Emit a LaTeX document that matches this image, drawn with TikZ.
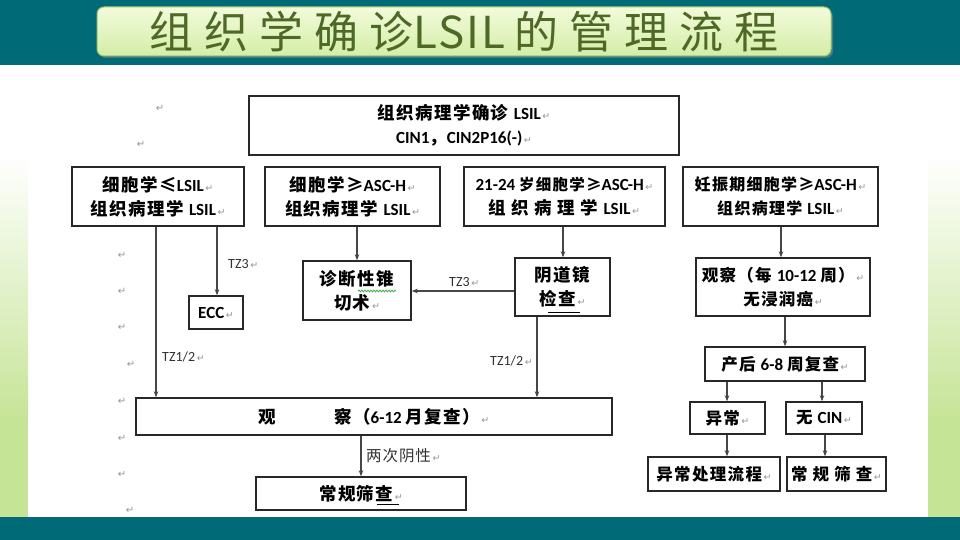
\documentclass[tikz,border=0pt]{standalone}
\usepackage{fontspec}
\usetikzlibrary{arrows.meta,decorations.pathmorphing}
\newfontfamily\cjk{Noto Sans CJK SC}
\newfontfamily\lat{Carlito}
\newfontfamily\symf{DejaVu Sans}
\definecolor{tealbg}{RGB}{0,107,118}
\definecolor{stripgreen}{RGB}{198,228,150}
\definecolor{titletext}{RGB}{78,104,38}
\definecolor{titletop}{RGB}{242,251,218}
\definecolor{titlebot}{RGB}{212,237,168}
\definecolor{titleedge}{RGB}{160,198,110}
\definecolor{boxc}{RGB}{40,40,40}
\definecolor{arrc}{RGB}{70,70,70}
\definecolor{retgray}{RGB}{150,150,150}
\definecolor{labc}{RGB}{50,50,50}
\definecolor{squig}{RGB}{70,170,70}
\newcommand\ret{{\symf\fontsize{9.5}{9.5}\selectfont\color{retgray}\,↵}}
\newcommand\zh[1]{{\cjk\bfseries\addfontfeature{LetterSpace=8}#1}}
\newcommand\la[1]{{\lat\bfseries\fontsize{17}{24}\selectfont #1}}
\tikzset{
  box/.style={draw=boxc, line width=1.4pt, fill=white, align=center, inner sep=0pt,
    text=black, font=\fontsize{17.5}{24}\selectfont},
  smallbox/.style={box, font=\fontsize{16.5}{24}\selectfont},
  arr/.style={draw=arrc, line width=1.2pt, -{Stealth[length=6pt,width=4.5pt]}},
  lbl/.style={font=\lat\fontsize{14}{14}\selectfont, text=labc, inner sep=0pt, anchor=west},
  retn/.style={font=\symf\fontsize{10}{10}\selectfont, text=retgray, inner sep=0pt},
  titlebox/.style={rounded corners=7pt, draw=titleedge, line width=1pt,
    top color=titletop, bottom color=titlebot, minimum width=734pt, minimum height=49pt,
    inner sep=0pt, text=titletext}
}
\begin{document}
\begin{tikzpicture}[x=1pt,y=-1pt]
\useasboundingbox (0,0) rectangle (960,540);
% background
\fill[white] (0,0) rectangle (960,540);
\fill[tealbg] (0,0) rectangle (960,65);
\fill[tealbg] (0,517) rectangle (960,540);
\shade[top color=white, bottom color=stripgreen] (0,155) rectangle (28,420);
\fill[stripgreen] (0,419.5) rectangle (28,517);
\shade[top color=white, bottom color=stripgreen] (928,155) rectangle (960,420);
\fill[stripgreen] (928,419.5) rectangle (960,517);
% title
\fill[black!45, opacity=0.5, rounded corners=7pt] (99,10) rectangle (833,58);
\node[titlebox] (title) at (464,31.5)
  {\cjk\fontsize{44}{44}\selectfont\addfontfeature{LetterSpace=25}组织学确诊{\addfontfeature{LetterSpace=4}LSIL}\hspace{9pt}的管理流程};
% boxes
\node[box, minimum width=430pt, minimum height=59pt] (top) at (464,125.5)
  {\zh{组织病理学确诊 }\la{LSIL}\ret\\\la{CIN1}\zh{，}\la{CIN2P16(-)}\ret};
\node[box, minimum width=172pt, minimum height=59pt] (A) at (158,196.5)
  {\zh{细胞学≤}\la{LSIL}\ret\\\zh{组织病理学 }\la{LSIL}\ret};
\node[box, minimum width=175pt, minimum height=59pt] (B) at (352.5,196.5)
  {\zh{细胞学≥}\la{ASC-H}\ret\\\zh{组织病理学 }\la{LSIL}\ret};
\node[box, minimum width=201pt, minimum height=59pt] (C) at (564.5,196.5)
  {{\fontsize{15.5}{24}\selectfont\la{21-24 }\zh{岁细胞学≥}\la{ASC-H}}\ret\\\zh{组 织 病 理 学 }\la{LSIL}\ret};
\node[box, minimum width=195pt, minimum height=59pt, font=\fontsize{16}{24}\selectfont] (D) at (780.5,196.5)
  {\zh{妊振期细胞学≥}\la{ASC-H}\ret\\\zh{组织病理学 }\la{LSIL}\ret};
\node[box, minimum width=54pt, minimum height=33pt] (ecc) at (216,312.5) {\la{ECC}\ret};
\node[box, minimum width=108pt, minimum height=59pt] (diag) at (357,290.5)
  {\zh{诊断性锥}\\\zh{切术}\ret};
\node[box, minimum width=95pt, minimum height=58pt] (colpo) at (562.5,287)
  {\zh{阴道镜}\\\zh{检查}\ret};
\node[box, minimum width=476pt, minimum height=37pt] (obs) at (374,416.5)
  {\zh{观　　　察（}\la{6-12 }\zh{月复查）}\ret};
\node[box, minimum width=210pt, minimum height=33pt] (rout) at (361,493.5)
  {\zh{常规筛查}\ret};
\node[smallbox, minimum width=174pt, minimum height=58pt] (pobs) at (783,287)
  {\zh{观察（每 }\la{10-12 }\zh{周）}\ret\\\zh{无浸润癌}\ret};
\node[smallbox, minimum width=160pt, minimum height=34pt] (pp) at (785,364)
  {\zh{产后 }\la{6-8 }\zh{周复查}\ret};
\node[smallbox, minimum width=75pt, minimum height=32pt] (abn) at (727.5,418)
  {\zh{异常}\ret};
\node[smallbox, minimum width=76pt, minimum height=32pt] (nocin) at (824,418)
  {\zh{无 }\la{CIN}\ret};
\node[smallbox, minimum width=132pt, minimum height=34pt] (abnp) at (714,474)
  {\zh{异常处理流程}\ret};
\node[smallbox, minimum width=99pt, minimum height=34pt] (rout2) at (836.5,474)
  {\zh{常 规 筛 查}\ret};
% word artefacts
\draw[squig, line width=0.8pt, decorate, decoration={snake, amplitude=0.9pt, segment length=3pt}]
  (358,291) -- (396,291);
\draw[black, line width=0.8pt] (548,312) -- (580,312);
\draw[black, line width=0.8pt] (377,504.5) -- (399,504.5);
% x positions for connectors
\coordinate (x1) at (156,0);
\coordinate (x2) at (217,0);
\coordinate (x3) at (357,0);
\coordinate (x4) at (563,0);
\coordinate (x5) at (537,0);
\coordinate (x6) at (361,0);
\coordinate (x7) at (781,0);
\coordinate (x8) at (785,0);
\coordinate (x9) at (727,0);
\coordinate (x10) at (822,0);
\coordinate (x11) at (825,0);
\coordinate (y1) at (0,291);
% connectors
\draw[arr] (A.south -| x1) -- (obs.north -| x1);
\draw[arr] (A.south -| x2) -- (ecc.north -| x2);
\draw[arr] (B.south -| x3) -- (diag.north -| x3);
\draw[arr] (C.south -| x4) -- (colpo.north -| x4);
\draw[arr] (colpo.west |- y1) -- (diag.east |- y1);
\draw[arr] (colpo.south -| x5) -- (obs.north -| x5);
\draw[arr] (obs.south -| x6) -- (rout.north -| x6);
\draw[arr] (D.south -| x7) -- (pobs.north -| x7);
\draw[arr] (pobs.south -| x8) -- (pp.north -| x8);
\draw[arr] (pp.south -| x9) -- (abn.north -| x9);
\draw[arr] (pp.south -| x10) -- (nocin.north -| x10);
\draw[arr] (abn.south -| x9) -- (abnp.north -| x9);
\draw[arr] (nocin.south -| x11) -- (rout2.north -| x11);
% labels
\node[lbl] (l1) at (228,264) {TZ3\ret};
\node[lbl] (l2) at (162,357) {TZ1/2\ret};
\node[lbl] (l3) at (449,282) {TZ3\ret};
\node[lbl] (l4) at (490,361) {TZ1/2\ret};
\node[lbl, font=\cjk\fontsize{15.5}{16}\selectfont\addfontfeature{LetterSpace=6}] (l5) at (366,456) {两次阴性\ret};
% free paragraph marks
\node[retn] (r1) at (160,108) {↵};
\node[retn] (r2) at (141,144) {↵};
\node[retn] (r3) at (122,255) {↵};
\node[retn] (r4) at (122,291) {↵};
\node[retn] (r5) at (122,327) {↵};
\node[retn] (r6) at (131,364) {↵};
\node[retn] (r7) at (122,401) {↵};
\node[retn] (r8) at (122,438) {↵};
\node[retn] (r9) at (122,474) {↵};
\node[retn] (r10) at (130,510) {↵};
\end{tikzpicture}
\end{document}
